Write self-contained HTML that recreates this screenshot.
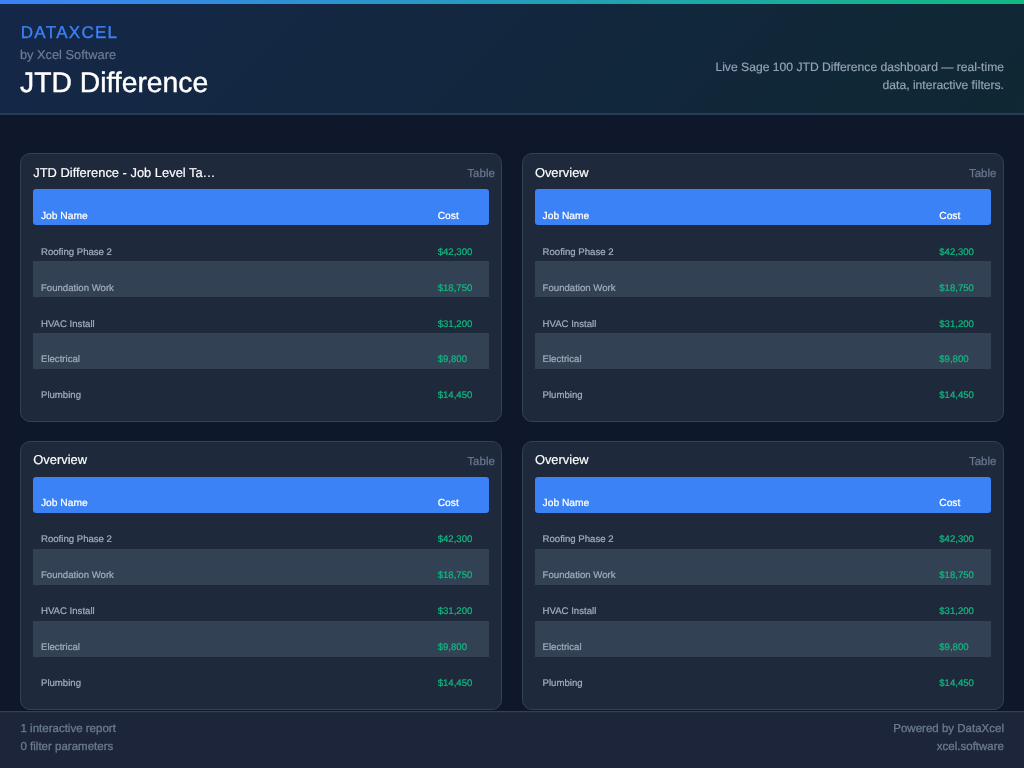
<!DOCTYPE html>
<html lang="en">
<head>
<meta charset="utf-8">
<title>JTD Difference</title>
<style>
*{box-sizing:border-box;margin:0;padding:0}
html,body{-webkit-text-stroke:0.18px;text-rendering:geometricPrecision;width:1024px;height:768px;overflow:hidden;background:#0f172a;font-family:"Liberation Sans",Arial,Helvetica,sans-serif;color:#fff}
.topbar{position:absolute;left:0;top:0;width:1024px;height:4px;background:linear-gradient(90deg,#3b82f6,#10b981)}
.header{position:absolute;left:0;top:4px;width:1024px;height:111px;background:linear-gradient(135deg,rgba(59,130,246,.15),rgba(16,185,129,.10)),#0f172a;border-bottom:2px solid #2a3b57}
.brand{position:absolute;left:20.8px;top:19.4px;font-size:17px;line-height:20px;letter-spacing:1.29px;color:#3b82f6;-webkit-text-stroke:0.35px}
.by{position:absolute;left:20px;top:43px;font-size:12.8px;line-height:16px;color:#6e7d95}
.h1{position:absolute;left:20px;top:59.7px;font-size:28.3px;line-height:36px;-webkit-text-stroke:0.4px;color:#fff;font-weight:400}
.desc{position:absolute;right:20px;top:54px;width:300px;text-align:right;font-size:12.15px;line-height:18px;color:#94a3b8}
.card{position:absolute;width:482.4px;height:268.9px;background:#1e293b;border:1px solid #334155;border-radius:10px}
.card .t{position:absolute;left:12.3px;top:9.75px;font-size:12.9px;line-height:18px;color:#fff;white-space:nowrap}
.card .k{position:absolute;right:6.5px;top:12.9px;font-size:11.52px;line-height:14px;color:#66768d;-webkit-text-stroke:0.25px}
.tbl{position:absolute;left:12px;top:35.3px;width:456.4px}
.r{position:relative;height:36px;font-size:9.6px;color:#a1acbc;-webkit-text-stroke:0.22px}
.r span{position:absolute;bottom:2px;line-height:12px;white-space:nowrap}
.r .a{left:8px}
.r .b{left:404.7px;color:#10b981}
.r.h{background:#3b82f6;border-radius:3px;font-size:10.24px;color:#fff}
.r.h .b{color:#fff}
.r.h span{bottom:2px}
.r.z{background:#334155}
.lo .t{top:8.75px!important}
.lo .r span{bottom:3px}
.card .r:nth-child(n+5) span{bottom:3px}
.footer{position:absolute;left:0;top:711px;width:1024px;height:57px;background:#1c2539;border-top:1px solid #334155;box-shadow:inset 0 1px 0 rgba(51,65,85,.25);font-size:11.52px;line-height:18px;color:#6b7a90;-webkit-text-stroke:0.3px}
.footer .l{position:absolute;left:20.5px;top:8px}
.footer .rr{position:absolute;right:20px;top:8px;text-align:right}
</style>
</head>
<body>
<div class="topbar"></div>
<div class="header">
  <div class="brand">DATAXCEL</div>
  <div class="by">by Xcel Software</div>
  <h1 class="h1">JTD Difference</h1>
  <div class="desc">Live Sage 100 JTD Difference dashboard — real-time data, interactive filters.</div>
</div>

<div class="card" style="left:20px;top:152.8px">
  <div class="t">JTD Difference - Job Level Ta…</div><div class="k">Table</div>
  <div class="tbl">
    <div class="r h"><span class="a">Job Name</span><span class="b">Cost</span></div>
    <div class="r"><span class="a">Roofing Phase 2</span><span class="b">$42,300</span></div>
    <div class="r z"><span class="a">Foundation Work</span><span class="b">$18,750</span></div>
    <div class="r"><span class="a">HVAC Install</span><span class="b">$31,200</span></div>
    <div class="r z"><span class="a">Electrical</span><span class="b">$9,800</span></div>
    <div class="r"><span class="a">Plumbing</span><span class="b">$14,450</span></div>
  </div>
</div>

<div class="card" style="left:521.6px;top:152.8px">
  <div class="t">Overview</div><div class="k">Table</div>
  <div class="tbl">
    <div class="r h"><span class="a">Job Name</span><span class="b">Cost</span></div>
    <div class="r"><span class="a">Roofing Phase 2</span><span class="b">$42,300</span></div>
    <div class="r z"><span class="a">Foundation Work</span><span class="b">$18,750</span></div>
    <div class="r"><span class="a">HVAC Install</span><span class="b">$31,200</span></div>
    <div class="r z"><span class="a">Electrical</span><span class="b">$9,800</span></div>
    <div class="r"><span class="a">Plumbing</span><span class="b">$14,450</span></div>
  </div>
</div>

<div class="card lo" style="left:20px;top:440.9px">
  <div class="t">Overview</div><div class="k">Table</div>
  <div class="tbl">
    <div class="r h"><span class="a">Job Name</span><span class="b">Cost</span></div>
    <div class="r"><span class="a">Roofing Phase 2</span><span class="b">$42,300</span></div>
    <div class="r z"><span class="a">Foundation Work</span><span class="b">$18,750</span></div>
    <div class="r"><span class="a">HVAC Install</span><span class="b">$31,200</span></div>
    <div class="r z"><span class="a">Electrical</span><span class="b">$9,800</span></div>
    <div class="r"><span class="a">Plumbing</span><span class="b">$14,450</span></div>
  </div>
</div>

<div class="card lo" style="left:521.6px;top:440.9px">
  <div class="t">Overview</div><div class="k">Table</div>
  <div class="tbl">
    <div class="r h"><span class="a">Job Name</span><span class="b">Cost</span></div>
    <div class="r"><span class="a">Roofing Phase 2</span><span class="b">$42,300</span></div>
    <div class="r z"><span class="a">Foundation Work</span><span class="b">$18,750</span></div>
    <div class="r"><span class="a">HVAC Install</span><span class="b">$31,200</span></div>
    <div class="r z"><span class="a">Electrical</span><span class="b">$9,800</span></div>
    <div class="r"><span class="a">Plumbing</span><span class="b">$14,450</span></div>
  </div>
</div>

<div class="footer">
  <div class="l">1 interactive report<br>0 filter parameters</div>
  <div class="rr">Powered by DataXcel<br>xcel.software</div>
</div>
</body>
</html>
